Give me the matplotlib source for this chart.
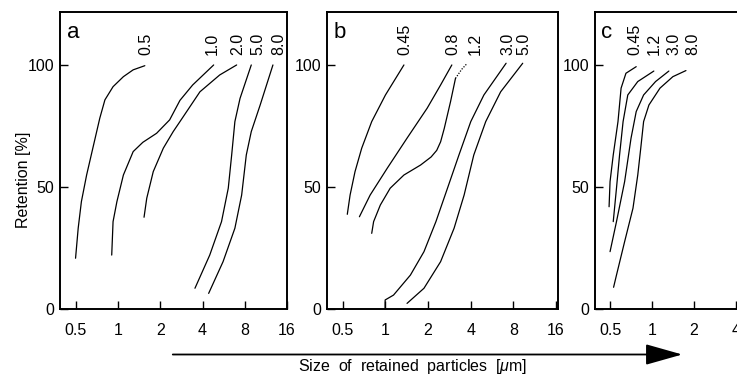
import matplotlib.pyplot as plt
from matplotlib.patches import FancyArrowPatch

plt.rcParams['font.family'] = ['Liberation Sans', 'DejaVu Sans']
plt.rcParams['mathtext.fontset'] = 'custom'
plt.rcParams['mathtext.it'] = 'Liberation Sans:italic'
plt.rcParams['mathtext.rm'] = 'Liberation Sans'

# ---- data (x = particle size um, y = retention %) ----
a_names = ['0.5', '1.0', '2.0', '5.0', '8.0']
a_x = [
    [0.497, 0.519, 0.547, 0.596, 0.66, 0.74, 0.805, 0.92, 1.09, 1.28, 1.55],
    [0.90, 0.92, 0.98, 1.09, 1.28, 1.5, 1.88, 2.33, 2.76, 3.4, 4.8],
    [1.53, 1.6, 1.78, 2.1, 2.47, 2.76, 3.83, 5.3, 7.0],
    [3.53, 4.5, 5.46, 6.1, 6.45, 6.8, 7.4, 8.9],
    [4.42, 5.6, 6.8, 7.6, 8.2, 8.9, 10.3, 12.7],
]
a_y = [
    [20.8, 33.1, 44, 54.9, 65.9, 78.2, 85.7, 91.1, 95.2, 98, 99.7],
    [22.1, 35.8, 44, 54.9, 64.5, 68.3, 72, 77.5, 85.5, 91.8, 100],
    [37.6, 45.4, 56.3, 65.9, 72.7, 76.8, 89, 95.9, 100],
    [8.5, 22.1, 35.8, 49.5, 63.1, 76.8, 86.3, 100],
    [6.4, 19.4, 33.1, 46.7, 63.1, 72.7, 83.6, 100],
]
a_lab_x = [1.58, 4.7, 7.1, 10.0, 14.0]

b_names = ['0.45', '0.8', '1.2', '3.0', '5.0']
b_x = [
    [0.538, 0.563, 0.61, 0.68, 0.80, 1.0, 1.35],
    [0.655, 0.78, 1.03, 1.42, 1.97, 2.45, 2.94],
    [0.80, 0.825, 0.92, 1.08, 1.35, 1.77, 2.1, 2.3, 2.45, 2.6, 2.88, 3.12],
    [0.995, 0.995, 1.14, 1.5, 1.87, 2.27, 2.74, 3.3, 4.0, 4.95, 7.1],
    [1.42, 1.87, 2.45, 3.05, 3.59, 4.2, 5.1, 6.5, 9.3],
]
b_y = [
    [38.8, 46.7, 56.3, 65.9, 76.8, 87.7, 100],
    [37.8, 46.7, 57.7, 70, 82.3, 91.8, 100],
    [31, 35.8, 42.6, 49.5, 54.9, 59, 62.3, 65, 68.5, 74, 85, 94.5],
    [0.4, 3.7, 5.7, 13.9, 23.5, 35.8, 49.5, 63.1, 76.8, 87.7, 100.7],
    [2.3, 8.5, 19.4, 33.1, 46.7, 63.1, 76.8, 89, 100.7],
]
b_dot_x = [3.12, 3.45, 3.78]   # dotted end of the 1.2 curve
b_dot_y = [94.5, 98.2, 100.7]
b_lab_x = [1.38, 3.0, 4.3, 7.3, 9.5]

c_names = ['0.45', '1.2', '3.0', '8.0']
c_x = [
    [0.492, 0.5, 0.527, 0.57, 0.60, 0.65, 0.77],
    [0.527, 0.556, 0.585, 0.62, 0.67, 0.79, 1.03],
    [0.5, 0.556, 0.636, 0.707, 0.77, 0.87, 1.06, 1.32],
    [0.53, 0.556, 0.636, 0.73, 0.79, 0.83, 0.87, 0.95, 1.14, 1.41, 1.75],
]
c_y = [
    [41.9, 52.2, 63.1, 76.8, 90.5, 96.6, 99.3],
    [35.8, 49.5, 63.1, 76.8, 87.7, 93.2, 97.5],
    [23.5, 35.8, 52.2, 70, 80.9, 87.7, 93.2, 97.5],
    [8.9, 13.9, 27.6, 41.3, 54.9, 65.9, 76.8, 83.6, 90.5, 95.2, 97.7],
]
c_lab_x = [0.75, 1.03, 1.43, 1.97]

xticks = [0.5, 1, 2, 4, 8, 16]
xticklabels = ['0.5', '1', '2', '4', '8', '16']
yticks = [0, 50, 100]

FS = 11.5
W, H = 737, 376
fig = plt.figure(figsize=(W / 100, H / 100), dpi=100)

def px_ax(left, right, xlim):
    bottom, top = 309, 12
    ax = fig.add_axes([left / W, 1 - bottom / H, (right - left) / W, (bottom - top) / H])
    ax.set_xscale('log', base=2)
    ax.set_xlim(*xlim)
    ax.set_ylim(0, 121.7)
    ax.set_xticks(xticks)
    ax.set_xticklabels(xticklabels)
    ax.minorticks_off()
    ax.set_yticks(yticks)
    ax.tick_params(direction='in', length=6, width=1.0, labelsize=FS)
    ax.tick_params(axis='x', pad=10)
    ax.tick_params(axis='y', pad=4)
    for s in ax.spines.values():
        s.set_linewidth(1.4)
    return ax

def draw(ax, letter, xs, ys, names, lab_x):
    for x, y in zip(xs, ys):
        ax.plot(x, y, color='black', lw=0.9, solid_capstyle='round', solid_joinstyle='round')
    for name, lx in zip(names, lab_x):
        ax.text(lx, 104, name, rotation=90, ha='center', va='bottom', fontsize=FS)
    ax.text(0.385 * 2 ** (7 / 42.3), 111, letter, fontsize=16, va='baseline')

ax_a = px_ax(60, 287, (0.385, 16))
draw(ax_a, 'a', a_x, a_y, a_names, a_lab_x)

ax_b = px_ax(326.7, 558, (0.385, 16.5))
draw(ax_b, 'b', b_x, b_y, b_names, b_lab_x)
ax_b.plot(b_dot_x, b_dot_y, color='black', lw=0.9, ls=(0, (1, 1.2)))

# panel c runs past the right edge of the figure, as in the original
ax_c = px_ax(595, 820, (0.39, 16))
draw(ax_c, 'c', c_x, c_y, c_names, c_lab_x)

fig.text(24 / W, 1 - 180 / H, 'Retention [%]', rotation=90, ha='center', va='center', fontsize=FS)

arrow = FancyArrowPatch((170 / W, 1 - 354.5 / H), (685 / W, 1 - 354.5 / H),
                        transform=fig.transFigure, color='black', lw=1.3,
                        arrowstyle='-|>,head_length=23,head_width=6.5', mutation_scale=1)
fig.add_artist(arrow)
fig.text(413 / W, 1 - 367 / H, 'Size  of  retained  particles  [$\\mu$m]',
         ha='center', va='center', fontsize=FS)

fig.savefig('out.png', dpi=100)
